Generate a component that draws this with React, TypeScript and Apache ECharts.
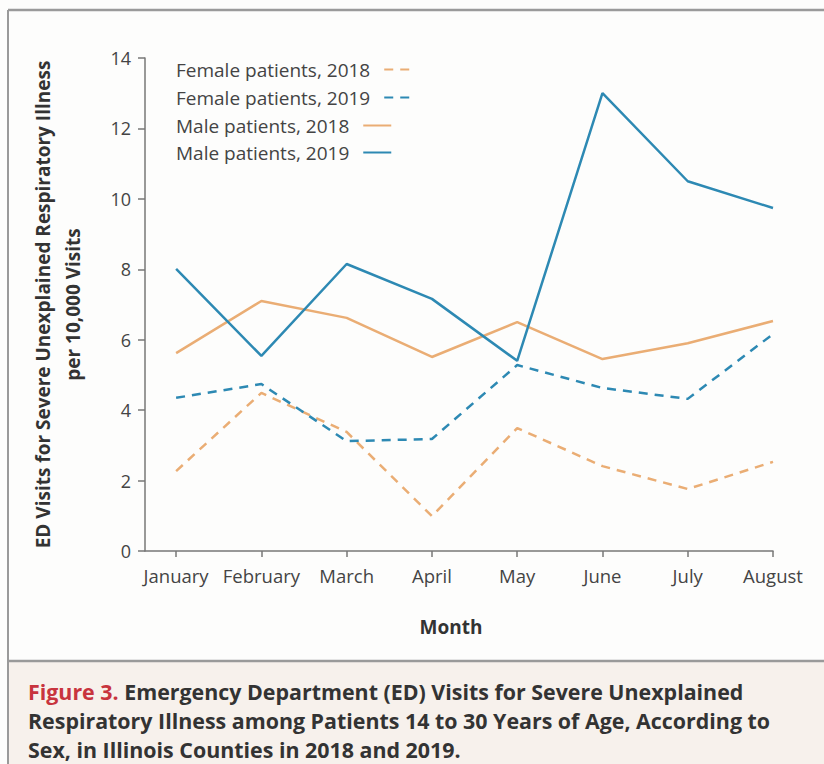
import React, { useEffect, useRef } from "react";
import * as echarts from "echarts";

const months = ["January", "February", "March", "April", "May", "June", "July", "August"];
const female2018 = [2.27, 4.49, 3.38, 0.99, 3.49, 2.41, 1.76, 2.53];
const female2019 = [4.35, 4.74, 3.12, 3.18, 5.28, 4.63, 4.32, 6.16];
const male2018 = [5.62, 7.1, 6.62, 5.51, 6.5, 5.45, 5.9, 6.53];
const male2019 = [8.01, 5.54, 8.15, 7.16, 5.4, 13.0, 10.5, 9.74];
const yTicks = [0, 2, 4, 6, 8, 10, 12, 14];
const seriesNames = ["Female patients, 2018", "Female patients, 2019", "Male patients, 2018", "Male patients, 2019"];

const ORANGE = "#EAAD74";
const BLUE = "#2D89B3";
const FONT = "'Open Sans', 'Noto Sans', sans-serif";

const toPairs = (arr: number[]) => arr.map((v, i) => [i, v]);

export default function App() {
  const ref = useRef<HTMLDivElement>(null);
  useEffect(() => {
    if (!ref.current) return;
    const chart = echarts.init(ref.current, null, { renderer: "svg" });
    const mk = (name: string, data: number[], color: string, dashed: boolean) => ({
      name,
      type: "line",
      data: toPairs(data),
      symbol: "none",
      showSymbol: false,
      lineStyle: { color, width: 2.5, type: dashed ? [9, 7] : "solid" },
      itemStyle: { color },
      z: 3,
    });
    const legendTops = [60, 88, 116, 143];
    chart.setOption({
      animation: false,
      backgroundColor: "#fdfdfc",
      textStyle: { fontFamily: FONT },
      graphic: [
        { type: "rect", shape: { x: 8, y: 661, width: 816, height: 103 }, style: { fill: "#f7f1ec" }, z: -10 },
        { type: "line", shape: { x1: 8, y1: 10, x2: 824, y2: 10 }, style: { stroke: "#9a9a9a", lineWidth: 2.5 } },
        { type: "line", shape: { x1: 8, y1: 10, x2: 8, y2: 764 }, style: { stroke: "#9a9a9a", lineWidth: 2 } },
        { type: "line", shape: { x1: 8, y1: 661, x2: 824, y2: 661 }, style: { stroke: "#9a9a9a", lineWidth: 2.5 } },
        {
          type: "text",
          left: 28,
          top: 677,
          style: {
            text: "{r|Figure 3.} Emergency Department (ED) Visits for Severe Unexplained\nRespiratory Illness among Patients 14 to 30 Years of Age, According to\nSex, in Illinois Counties in 2018 and 2019.",
            fontFamily: FONT,
            fontSize: 21.4,
            fontWeight: "bold",
            fill: "#333333",
            lineHeight: 29,
            rich: {
              r: { fill: "#C8343E", fontFamily: FONT, fontSize: 21.4, fontWeight: "bold", lineHeight: 29 },
            },
          },
        },
      ],
      legend: seriesNames.map((n, i) => ({
        orient: "vertical",
        left: 176,
        top: legendTops[i],
        align: "right",
        padding: 0,
        itemWidth: 28,
        itemHeight: 14,
        itemStyle: { opacity: 0 },
        textStyle: { fontSize: 19, color: "#444", fontFamily: FONT, padding: [0, 9, 0, 0] },
        data: [n],
      })),
      grid: { left: 145, right: 51, top: 58, bottom: 213 },
      xAxis: {
        type: "value",
        min: -0.365,
        max: 7,
        name: "Month",
        nameLocation: "middle",
        nameGap: 66,
        nameTextStyle: { fontSize: 19, fontWeight: "bold", color: "#333", fontFamily: FONT, padding: [0, 16, 0, 0] },
        axisLine: { show: true, onZero: false, lineStyle: { color: "#777", width: 1.5 } },
        axisTick: { show: true, length: 6, customValues: months.map((_, i) => i), lineStyle: { color: "#777", width: 1.5 } },
        axisLabel: {
          customValues: months.map((_, i) => i),
          formatter: (v: number) => months[Math.round(v)] ?? "",
          fontSize: 18.5,
          color: "#444",
          margin: 15,
          fontFamily: FONT,
        },
        splitLine: { show: false },
      },
      yAxis: {
        type: "value",
        min: 0,
        max: 14,
        interval: 2,
        name: "ED Visits for Severe Unexplained Respiratory Illness\nper 10,000 Visits",
        nameLocation: "middle",
        nameGap: 57,
        nameTextStyle: { fontSize: 19, fontWeight: "bold", color: "#333", lineHeight: 30, fontFamily: FONT },
        axisLine: { show: true, onZero: false, lineStyle: { color: "#777", width: 1.5 } },
        axisTick: { show: true, length: 7, lineStyle: { color: "#777", width: 1.5 } },
        axisLabel: {
          customValues: yTicks,
          fontSize: 18,
          color: "#444",
          margin: 14,
          fontFamily: FONT,
        },
        splitLine: { show: false },
      },
      series: [
        mk(seriesNames[0], female2018, ORANGE, true),
        mk(seriesNames[1], female2019, BLUE, true),
        mk(seriesNames[2], male2018, ORANGE, false),
        mk(seriesNames[3], male2019, BLUE, false),
      ],
    });
    return () => chart.dispose();
  }, []);
  return (
    <div
      ref={ref}
      style={{ position: "absolute", left: 0, top: 0, width: 824, height: 764 }}
    />
  );
}
